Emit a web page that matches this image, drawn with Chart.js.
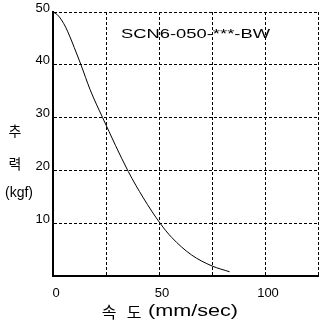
<!DOCTYPE html>
<html>
<head>
<meta charset="utf-8">
<script src="https://cdn.jsdelivr.net/npm/chart.js@4"></script>
<style>
  html, body { margin: 0; padding: 0; background: #fff; }
  #wrap { width: 323px; height: 324px; position: relative; }
</style>
</head>
<body>
<div id="wrap"><canvas id="chart"></canvas></div>
<script>
// speed (mm/sec) vs thrust (kgf)
const speedValues = [0, 2, 4, 6, 8, 10, 13.2, 17.5, 23.4, 35.5, 42.6, 50.5, 56, 65.3, 75, 83.3];
const thrustValues = [50, 49.5, 48.5, 47.1, 45.3, 43.3, 40, 35.3, 30, 19.8, 14.8, 10, 7.3, 4, 1.9, 0.8];
const xTickLabels = [0, 50, 100];
const yTickLabels = [10, 20, 30, 40, 50];
const modelName = 'SCN6-050-***-BW';

const FONT = '"Liberation Sans", Arial, sans-serif';
const KFONT = '"Noto Sans CJK KR", ' + FONT;

// draw text stretched to a given width (the original font is wide)
function drawWide(ctx, text, left, y, width) {
    const w = ctx.measureText(text).width;
    ctx.save();
    ctx.translate(left, y);
    ctx.scale(width / w, 1);
    ctx.textAlign = 'left';
    ctx.fillText(text, 0, 0);
    ctx.restore();
}

const labelsPlugin = {
    id: 'labels',
    afterDraw(chart) {
        const ctx = chart.ctx;
        const xs = chart.scales.x;
        const ys = chart.scales.y;
        ctx.save();
        ctx.fillStyle = '#000';
        ctx.font = '13px ' + FONT;
        ctx.textBaseline = 'middle';

        ctx.textAlign = 'right';
        yTickLabels.forEach(v => {
            ctx.fillText(String(v), 50, ys.getPixelForValue(v) - 4);
        });

        ctx.textAlign = 'center';
        xTickLabels.forEach(v => {
            ctx.fillText(String(v), xs.getPixelForValue(v) + 3, 293);
        });

        ctx.font = '14px ' + KFONT;
        ctx.fillText('추', 15, 131);
        ctx.fillText('력', 15, 164);
        ctx.font = '14px ' + FONT;
        ctx.fillText('(kgf)', 19, 193);

        ctx.font = '16px ' + KFONT;
        ctx.fillText('속', 109, 312);
        ctx.fillText('도', 134, 312);
        ctx.font = '16px ' + FONT;
        drawWide(ctx, '(mm/sec)', 148, 312, 90);

        ctx.font = '13px ' + FONT;
        drawWide(ctx, modelName, 121, 34, 149);
        ctx.restore();
    }
};

const points = speedValues.map((x, i) => ({ x: x, y: thrustValues[i] }));

new Chart(document.getElementById('chart'), {
    type: 'line',
    data: {
        datasets: [{
            data: points,
            borderColor: '#000',
            borderWidth: 1,
            pointRadius: 0,
            fill: false,
            cubicInterpolationMode: 'monotone'
        }]
    },
    options: {
        responsive: true,
        maintainAspectRatio: false,
        animation: false,
        layout: { padding: { top: 12, right: 5, left: 0, bottom: 0 } },
        plugins: { legend: { display: false }, tooltip: { enabled: false } },
        scales: {
            x: {
                type: 'linear',
                min: 0,
                max: 125,
                ticks: { stepSize: 25, display: false },
                grid: { color: '#000', lineWidth: 1, drawTicks: false },
                border: { display: true, color: '#000', width: 2, dash: [3, 2] },
                afterFit(scale) { scale.height = 48; }
            },
            y: {
                min: 0,
                max: 50,
                ticks: { stepSize: 10, display: false },
                grid: { color: '#000', lineWidth: 1, drawTicks: false },
                border: { display: true, color: '#000', width: 2, dash: [3, 2] },
                afterFit(scale) { scale.width = 53; }
            }
        }
    },
    plugins: [labelsPlugin]
});
</script>
</body>
</html>
